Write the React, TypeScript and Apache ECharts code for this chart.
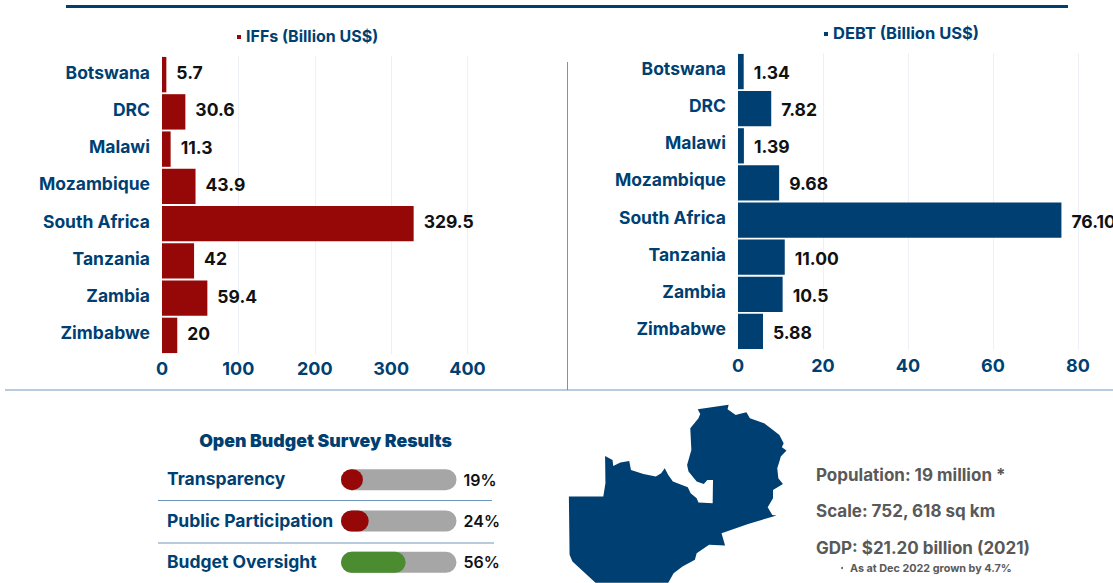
import React, { useEffect, useRef } from "react";
import * as echarts from "echarts";

const countries = ["Botswana", "DRC", "Malawi", "Mozambique", "South Africa", "Tanzania", "Zambia", "Zimbabwe"];
const iffValues = [5.7, 30.6, 11.3, 43.9, 329.5, 42, 59.4, 20];
const iffLabels = ["5.7", "30.6", "11.3", "43.9", "329.5", "42", "59.4", "20"];
const debtValues = [1.34, 7.82, 1.39, 9.68, 76.1, 11, 10.5, 5.88];
const debtLabels = ["1.34", "7.82", "1.39", "9.68", "76.10", "11.00", "10.5", "5.88"];
const surveyNames = ["Transparency", "Public Participation", "Budget Oversight"];
const surveyValues = [19, 24, 56];
const surveyFull = [100, 100, 100];
const statLines = ["Population: 19 million *", "Scale: 752, 618 sq km", "GDP: $21.20 billion (2021)"];

const NAVY = "#003f72";
const RED = "#960808";
const RULE = "#6f97bd";
const FONT = "Inter, 'Noto Sans', sans-serif";

const zambia =
  "M388 28L475 14L472 28L495 45L505 42L525 37L535 55L575 70L600 90L618 105L630 130L625 142L638 152L622 170L618 185L612 205L615 235L628 252L600 270L600 295L585 322L598 345L610 347L530 372L455 400L465 437L420 435L385 460L380 480L345 500L320 520L305 549L100 549L35 485L27 465L25 290L122 290L128 250L127 168L148 180L150 198L170 188L195 183L200 210L235 222L270 230L285 220L295 205L305 225L318 245L360 262L368 280L385 295L390 308L430 310L431 240L415 240L405 252L385 245L362 215L358 195L370 150L367 85L390 55L395 42Z";
echarts.graphic.registerShape("zambia", (echarts.graphic as any).extendPath(zambia, {}));

function barChart(idx: number, values: number[], labels: string[], color: string, labelDy: number, catLift: number) {
  return {
    yAxis: {
      gridIndex: idx, type: "category", inverse: true, data: countries,
      axisLine: { show: false }, axisTick: { show: false },
      axisLabel: { color: NAVY, fontFamily: FONT, fontWeight: 700, fontSize: 17.5, margin: 12, verticalAlign: "bottom", lineHeight: catLift * 2 },
    },
    series: {
      type: "bar", xAxisIndex: idx, yAxisIndex: idx, data: values, barCategoryGap: "5%",
      itemStyle: { color },
      label: {
        show: true, position: "right", distance: 10, offset: [0, labelDy], color: "#111111",
        fontFamily: FONT, fontWeight: 700, fontSize: 17.5,
        formatter: (p: any) => labels[p.dataIndex],
      },
    },
  };
}

function valueAxis(idx: number, max: number, interval: number, margin: number) {
  return {
    gridIndex: idx, type: "value", min: 0, max, interval,
    axisLine: { show: false }, axisTick: { show: false },
    splitLine: { show: true, lineStyle: { color: "#edf1f5", width: 1 } },
    axisLabel: { color: NAVY, fontFamily: FONT, fontWeight: 700, fontSize: 18, margin, hideOverlap: false },
  };
}

export default function App() {
  const ref = useRef<HTMLDivElement>(null);
  useEffect(() => {
    document.body.style.margin = "0";
    document.body.style.overflow = "hidden";
    const chart = echarts.init(ref.current!, undefined, { renderer: "svg" });
    const iff = barChart(0, iffValues, iffLabels, RED, -2, 2.5);
    const debt = barChart(1, debtValues, debtLabels, NAVY, 1, 3);
    const textItem = (text: string, x: number, y: number, fontSize: number, fill: string, fontWeight: any = 700, align = "left") => ({
      type: "text", x, y, style: { text, fontSize, fontWeight, fill, fontFamily: FONT, align, verticalAlign: "middle" },
    });
    const rule = (x1: number, y1: number, x2: number, y2: number, stroke: string, lineWidth: number) => ({
      type: "line", shape: { x1, y1, x2, y2 }, style: { stroke, lineWidth },
    });
    chart.setOption({
      animation: false,
      backgroundColor: "#ffffff",
      grid: [
        { left: 162, top: 56, width: 305.5, height: 298 },
        { left: 738, top: 53, width: 340, height: 297 },
        { left: 341, top: 459, width: 115.5, height: 125 },
      ],
      xAxis: [
        valueAxis(0, 400, 100, 5),
        valueAxis(1, 80, 20, 6),
        { gridIndex: 2, type: "value", min: 0, max: 100, show: false },
      ],
      yAxis: [
        iff.yAxis,
        debt.yAxis,
        {
          gridIndex: 2, type: "category", inverse: true, data: surveyNames,
          axisLine: { show: false }, axisTick: { show: false },
          axisLabel: { color: NAVY, fontFamily: FONT, fontWeight: 700, fontSize: 17.5, align: "left", margin: 174, verticalAlign: "bottom", lineHeight: 2 },
        },
      ],
      series: [
        iff.series,
        debt.series,
        {
          type: "bar", xAxisIndex: 2, yAxisIndex: 2, data: surveyFull, barWidth: 21, barGap: "-100%",
          itemStyle: { color: "#a6a6a6", borderRadius: 10.5 },
          label: {
            show: true, position: "right", distance: 7, color: "#111111", fontFamily: FONT, fontWeight: 600, fontSize: 16,
            formatter: (p: any) => surveyValues[p.dataIndex] + "%",
          },
        },
        {
          type: "bar", xAxisIndex: 2, yAxisIndex: 2, barWidth: 21,
          data: surveyValues.map((v) => ({ value: v, itemStyle: { color: v > 50 ? "#4a8c2f" : RED } })),
          itemStyle: { borderRadius: 10.5 },
        },
      ],
      graphic: [
        rule(66, 6.5, 1068, 6.5, NAVY, 3),
        rule(5, 390, 1113, 390, RULE, 1),
        rule(567.5, 62, 567.5, 390, RULE, 1),
        rule(158, 500.5, 492, 500.5, RULE, 1),
        rule(158, 543, 494, 543, RULE, 1),
        { type: "rect", shape: { x: 237, y: 35, width: 4, height: 4 }, style: { fill: RED } },
        textItem("IFFs (Billion US$)", 246, 36, 16, NAVY),
        { type: "rect", shape: { x: 824, y: 32, width: 4, height: 4 }, style: { fill: NAVY } },
        textItem("DEBT (Billion US$)", 833, 33, 16.5, NAVY),
        textItem("Open Budget Survey Results", 325.5, 440, 17.7, NAVY, 900, "center"),
        { type: "zambia", x: 560, y: 400, scaleX: 1 / 2.82, scaleY: 1 / 3, style: { fill: NAVY } },
        ...statLines.map((t, i) => textItem(t, 816, [475, 511, 548][i], 17, "#595959")),
        { type: "circle", shape: { cx: 842, cy: 568, r: 1 }, style: { fill: "#595959" } },
        textItem("As at Dec 2022 grown by 4.7%", 850, 568, 10.8, "#595959"),
      ],
    });
    return () => chart.dispose();
  }, []);
  return <div ref={ref} style={{ width: 1113, height: 583 }} />;
}
